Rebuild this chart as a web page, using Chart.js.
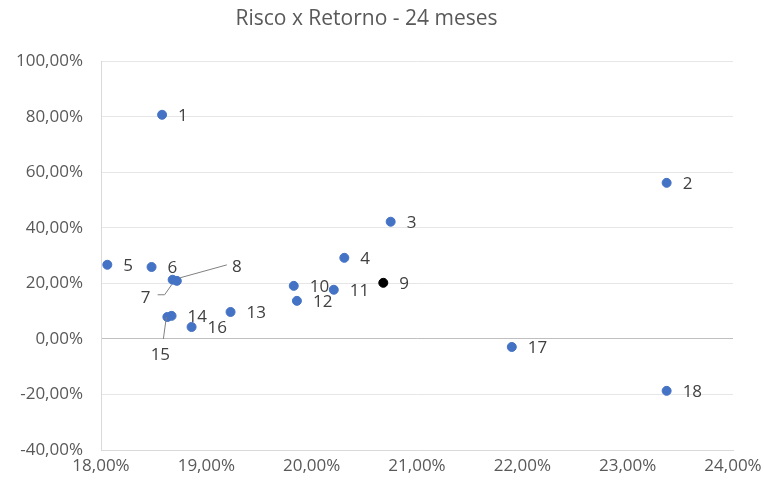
<!DOCTYPE html>
<html><head><meta charset="utf-8">
<script src="https://cdn.jsdelivr.net/npm/chart.js@4/dist/chart.umd.min.js"></script>
<style>html,body{margin:0;padding:0;background:#fff}#w{width:764px;height:485px}</style>
</head><body><div id="w"><canvas id="c"></canvas></div>
<script>
const pointLabels = ["1","2","3","4","5","6","7","8","9","10","11","12","13","14","15","16","17","18"];
const risco =   [18.58, 23.37, 20.75, 20.31, 18.06, 18.48, 18.68, 18.72, 20.68, 19.83, 20.21, 19.86, 19.23, 18.67, 18.63, 18.86, 21.90, 23.37];
const retorno = [80.7, 56.2, 42.2, 29.2, 26.7, 25.9, 21.3, 20.9, 20.2, 19.1, 17.7, 13.7, 9.7, 8.3, 7.9, 4.3, -2.9, -18.7];
const highlight = "9";
const titleText = "Risco x Retorno - 24 meses";

const pts = risco.map((x,i)=>({x:x, y:retorno[i]}));
const colors = pointLabels.map(l => l===highlight ? '#000000' : '#4472C4');

// label placement (style only): dx, dy relative to point, optional leader line
const labelStyle = {
  "7":  {dx:-27, dy:18, align:'center', leader:[[-15,15],[-8,15],[-1,5]]},
  "8":  {dx:60, dy:-14, align:'center', leader:[[3,-3],[50,-16]]},
  "15": {dx:-7, dy:38, align:'center', leader:[[-4,22],[-1,0]]}
};

const fmt = v => v.toFixed(2).replace('.', ',') + '%';

const labelPlugin = {
  id:'lbl',
  afterDatasetsDraw(chart){
    const ctx = chart.ctx;
    const meta = chart.getDatasetMeta(0);
    ctx.save();
    ctx.font = '17px "Open Sans"';
    ctx.fillStyle = '#404040';
    ctx.textBaseline = 'middle';
    meta.data.forEach((el,i)=>{
      const lab = pointLabels[i];
      const st = labelStyle[lab];
      if (st){
        if (st.leader){
          ctx.strokeStyle = '#808080'; ctx.lineWidth = 1;
          ctx.beginPath();
          st.leader.forEach((p,j)=>{ const px=el.x+p[0], py=el.y+p[1]; j?ctx.lineTo(px,py):ctx.moveTo(px,py);});
          ctx.stroke();
        }
        ctx.textAlign = st.align;
        ctx.fillText(lab, el.x+st.dx, el.y+st.dy);
      } else {
        ctx.textAlign = 'left';
        ctx.fillText(lab, el.x+16, el.y+1);
      }
    });
    ctx.restore();
  }
};

new Chart(document.getElementById('c'), {
  type:'scatter',
  data:{datasets:[{data:pts, backgroundColor:colors, borderColor:colors, pointRadius:4.5, pointHoverRadius:4.5}]},
  options:{
    responsive:true, maintainAspectRatio:false, animation:false,
    layout:{padding:{left:0,right:31,top:0,bottom:0}},
    plugins:{
      legend:{display:false}, tooltip:{enabled:false},
      title:{display:true, text:titleText, color:'#595959', font:{family:'"Open Sans"', size:21, weight:'normal', lineHeight:1.2}, padding:{top:6,bottom:30}}
    },
    scales:{
      x:{type:'linear', min:18, max:24,
         ticks:{stepSize:1, callback:fmt, color:'#595959', font:{family:'"Open Sans"', size:17}, maxRotation:0, padding:6},
         grid:{display:false, drawTicks:false}, border:{color:'#d9d9d9'},
         afterFit(s){ s.height = 35; s.paddingLeft = 0; s.paddingRight = 0; }},
      y:{type:'linear', min:-40, max:100,
         ticks:{stepSize:20, callback:fmt, color:'#595959', font:{family:'"Open Sans"', size:17}, padding:18},
         grid:{color:(c)=> c.tick && c.tick.value===0 ? '#bfbfbf' : '#e6e6e6', drawTicks:false},
         border:{color:'#d9d9d9'},
         afterFit(s){ s.width = 101; s.paddingTop = 0; s.paddingBottom = 0; }}
    }
  },
  plugins:[labelPlugin]
});
</script></body></html>
